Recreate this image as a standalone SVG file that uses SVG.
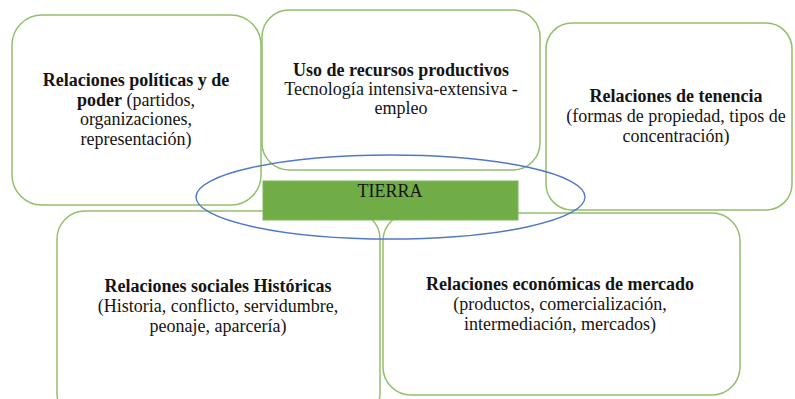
<svg xmlns="http://www.w3.org/2000/svg" width="795" height="399" viewBox="0 0 795 399" font-family="Liberation Serif, Times New Roman, serif">
<style>
.box{fill:#ffffff;stroke:#92bf6c;stroke-width:1.5}
.t{font-size:18px;fill:#141414;text-anchor:middle}
.b{font-weight:bold}
</style>
<rect width="795" height="399" fill="#ffffff"/>
<g id="box-politicas">
<rect class="box" x="12" y="15" width="249" height="190" rx="30" ry="30"/>
<text class="t" x="136" y="86"><tspan class="b">Relaciones políticas y de</tspan></text>
<text class="t" x="136" y="105.5"><tspan class="b">poder</tspan> (partidos,</text>
<text class="t" x="136" y="125">organizaciones,</text>
<text class="t" x="136" y="144.5">representación)</text>
</g>
<g id="box-uso">
<rect class="box" x="262" y="10" width="278" height="160" rx="27" ry="27"/>
<text class="t b" x="401" y="76">Uso de recursos productivos</text>
<text class="t" x="401" y="95">Tecnología intensiva-extensiva -</text>
<text class="t" x="401" y="114">empleo</text>
</g>
<g id="box-tenencia">
<rect class="box" x="546" y="23" width="246" height="187" rx="26" ry="26"/>
<text class="t b" x="676" y="102">Relaciones de tenencia</text>
<text class="t" x="676" y="122">(formas de propiedad, tipos de</text>
<text class="t" x="676" y="142">concentración)</text>
</g>
<g id="box-sociales">
<rect class="box" x="57" y="211" width="323" height="210" rx="28" ry="28"/>
<text class="t b" x="218" y="292">Relaciones sociales Históricas</text>
<text class="t" x="218" y="312">(Historia, conflicto, servidumbre,</text>
<text class="t" x="218" y="332">peonaje, aparcería)</text>
</g>
<g id="box-economicas">
<rect class="box" x="383" y="213" width="357" height="182" rx="28" ry="28"/>
<text class="t b" x="560" y="290">Relaciones económicas de mercado</text>
<text class="t" x="560" y="310">(productos, comercialización,</text>
<text class="t" x="560" y="330">intermediación, mercados)</text>
</g>
<g id="tierra">
<rect x="263" y="181" width="255" height="39" fill="#70ad47" stroke="#7cb85a" stroke-width="1"/>
<text class="t" x="390" y="197">TIERRA</text>
</g>
<g id="connectors">
<ellipse cx="390.5" cy="197" rx="194.5" ry="42" fill="none" stroke="#5079c4" stroke-width="1.4"/>
</g>
</svg>
